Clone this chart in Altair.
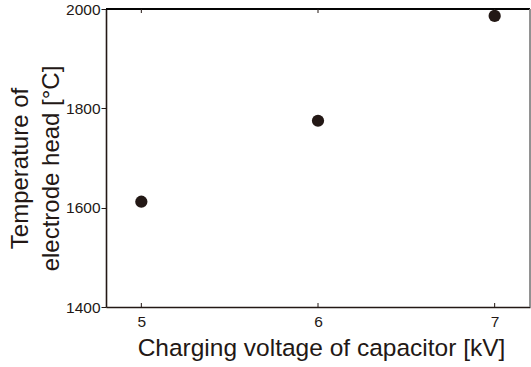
import altair as alt
import pandas as pd

voltage = [5, 6, 7]
temperature = [1612, 1775, 1986]
x_ticks = [5, 6, 7]
y_ticks = [1400, 1600, 1800, 2000]

INK = "#231815"
FONT = "Liberation Sans"
W, H = 424, 298

pts = pd.DataFrame({"v": voltage, "t": temperature})
tk = pd.DataFrame({"v": x_ticks})

xscale = alt.Scale(domain=[4.8, 7.2], nice=False, zero=False)
yscale = alt.Scale(domain=[1400, 2000], nice=False, zero=False)

xaxis = alt.Axis(
    values=x_ticks, format="d", ticks=False, tickSize=0, grid=False,
    domainColor=INK, domainWidth=1.6,
    labelFont=FONT, labelFontSize=15.5, labelColor=INK, labelPadding=7,
    title="Charging voltage of capacitor [kV]",
    titleFont=FONT, titleFontSize=24.5, titleFontWeight="normal", titleColor=INK,
    titleBaseline="alphabetic", titleY=48, titleX=215,
)
yaxis = alt.Axis(
    values=y_ticks, format="d", tickSize=5, tickColor=INK, tickWidth=1, grid=False,
    domainColor=INK, domainWidth=1.6,
    labelFont=FONT, labelFontSize=15.5, labelColor=INK, labelPadding=1,
    title=["Temperature of", "electrode head [°C]"],
    titleFont=FONT, titleFontSize=24, titleFontWeight="normal", titleColor=INK,
    titleLineHeight=31, titleBaseline="alphabetic", titleAngle=270,
    titleAlign="center", titleX=-79, titleY=159,
)

points = alt.Chart(pts).mark_circle(size=150, color=INK, opacity=1).encode(
    x=alt.X("v:Q", scale=xscale, axis=xaxis),
    y=alt.Y("t:Q", scale=yscale, axis=yaxis),
)

bottom_ticks = alt.Chart(tk).mark_rule(color=INK, strokeWidth=1).encode(
    x=alt.X("v:Q", scale=xscale), y=alt.value(H), y2=alt.value(H - 4)
)
top_ticks = alt.Chart(tk).mark_rule(color=INK, strokeWidth=1).encode(
    x=alt.X("v:Q", scale=xscale), y=alt.value(0), y2=alt.value(4)
)
top_line = alt.Chart(tk).mark_rule(color="#000000", strokeWidth=1.4).encode(
    x=alt.value(0), x2=alt.value(W), y=alt.value(0)
)
right_line = alt.Chart(tk).mark_rule(color="#8a8a8a", strokeWidth=1.2).encode(
    x=alt.value(W), y=alt.value(0), y2=alt.value(H)
)

chart = alt.layer(top_line, right_line, bottom_ticks, top_ticks, points).properties(
    width=W, height=H,
    autosize=alt.AutoSizeParams(type="none"),
    padding={"left": 106, "top": 9, "right": 1, "bottom": 60},
    background="white",
).configure_view(stroke=None)

chart.save("out.html", embed_options={"renderer": "svg", "actions": False})
